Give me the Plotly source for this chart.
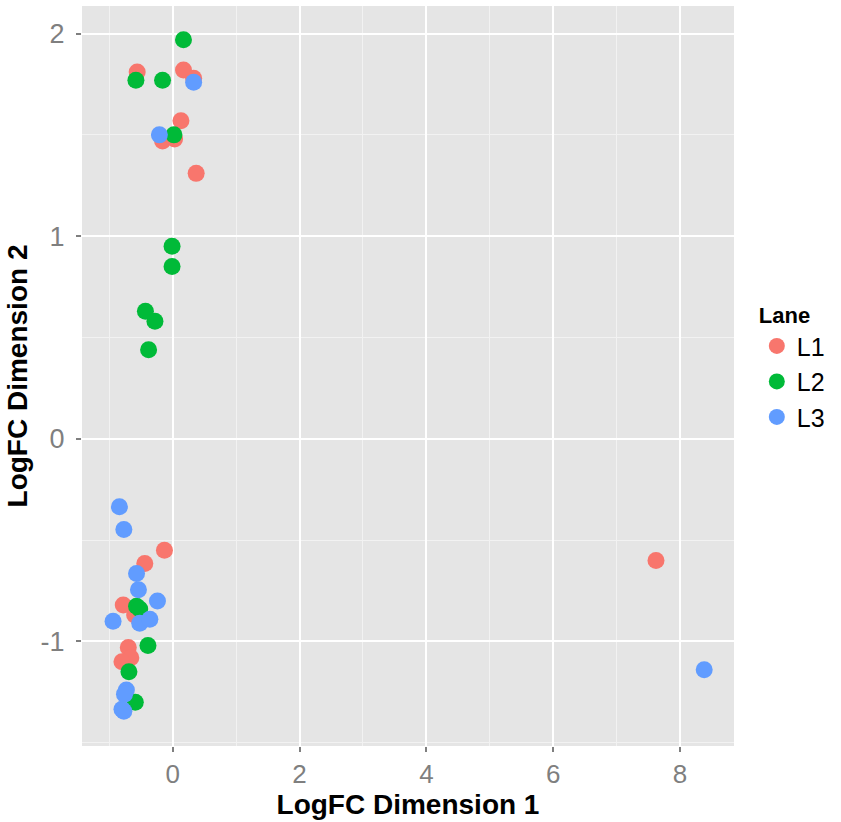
import plotly.graph_objects as go

lanes = ["L1", "L2", "L3"]
colors = ["#F8766D", "#00BA38", "#619CFF"]

l1_x = [-0.56, 0.17, 0.33, 0.13, -0.16, 0.03, 0.37, -0.13, -0.44, -0.78, -0.60, -0.70, -0.66, -0.80, 7.62]
l1_y = [1.81, 1.82, 1.78, 1.57, 1.47, 1.48, 1.31, -0.55, -0.615, -0.82, -0.87, -1.03, -1.08, -1.10, -0.60]

l2_x = [0.17, -0.58, -0.16, 0.02, -0.01, -0.01, -0.43, -0.28, -0.38, -0.57, -0.52, -0.39, -0.69, -0.59]
l2_y = [1.97, 1.77, 1.77, 1.50, 0.95, 0.85, 0.63, 0.58, 0.44, -0.826, -0.84, -1.02, -1.15, -1.30]

l3_x = [0.33, -0.21, -0.84, -0.77, -0.57, -0.54, -0.24, -0.94, -0.52, -0.36, -0.73, -0.76, -0.77, -0.80, 8.38]
l3_y = [1.76, 1.50, -0.335, -0.447, -0.665, -0.745, -0.80, -0.90, -0.91, -0.89, -1.24, -1.26, -1.345, -1.335, -1.14]

series = [(l1_x, l1_y), (l2_x, l2_y), (l3_x, l3_y)]

x_ticks = [0, 2, 4, 6, 8]
y_ticks = [-1, 0, 1, 2]

fig = go.Figure()
for name, col, (xs, ys) in zip(lanes, colors, series):
    fig.add_trace(go.Scatter(
        x=xs, y=ys, mode="markers", name=name,
        marker=dict(color=col, size=17, line=dict(width=0)),
    ))

font = "Liberation Sans, Arial, sans-serif"
fig.update_layout(
    width=841, height=822,
    margin=dict(l=82, r=107, t=6, b=76),
    paper_bgcolor="white",
    plot_bgcolor="#E5E5E5",
    font=dict(family=font, color="black"),
    legend=dict(
        title=dict(text="<b>Lane</b>", font=dict(size=22, family=font)),
        font=dict(size=25, family=font),
        x=1.035, xanchor="left", y=0.61, yanchor="top",
        bgcolor="rgba(0,0,0,0)", itemsizing="trace",
        tracegroupgap=3,
    ),
    showlegend=True,
)
fig.update_xaxes(
    range=[-1.43, 8.85], tickvals=x_ticks, ticktext=[str(v) for v in x_ticks],
    showgrid=True, gridcolor="white", gridwidth=2, zeroline=False,
    minor=dict(dtick=1, tick0=-1, showgrid=True, gridcolor="#F2F2F2", gridwidth=1),
    ticks="outside", ticklen=5, tickcolor="#7F7F7F", tickwidth=1.5,
    tickfont=dict(size=26, color="#7F7F7F", family=font),
    title=dict(text="<b>LogFC Dimension 1</b>", font=dict(size=28, family=font), standoff=6),
    showline=False,
)
fig.update_yaxes(
    range=[-1.516, 2.136], tickvals=y_ticks, ticktext=[str(v) for v in y_ticks],
    showgrid=True, gridcolor="white", gridwidth=2, zeroline=False,
    minor=dict(dtick=1, tick0=-1.5, showgrid=True, gridcolor="#F2F2F2", gridwidth=1),
    ticks="outside", ticklen=5, tickcolor="#7F7F7F", tickwidth=1.5,
    ticklabelstandoff=6,
    tickfont=dict(size=27, color="#7F7F7F", family=font),
    title=dict(text="<b>LogFC Dimension 2</b>", font=dict(size=28, family=font), standoff=4),
    showline=False,
)

fig.write_html("out.html")
